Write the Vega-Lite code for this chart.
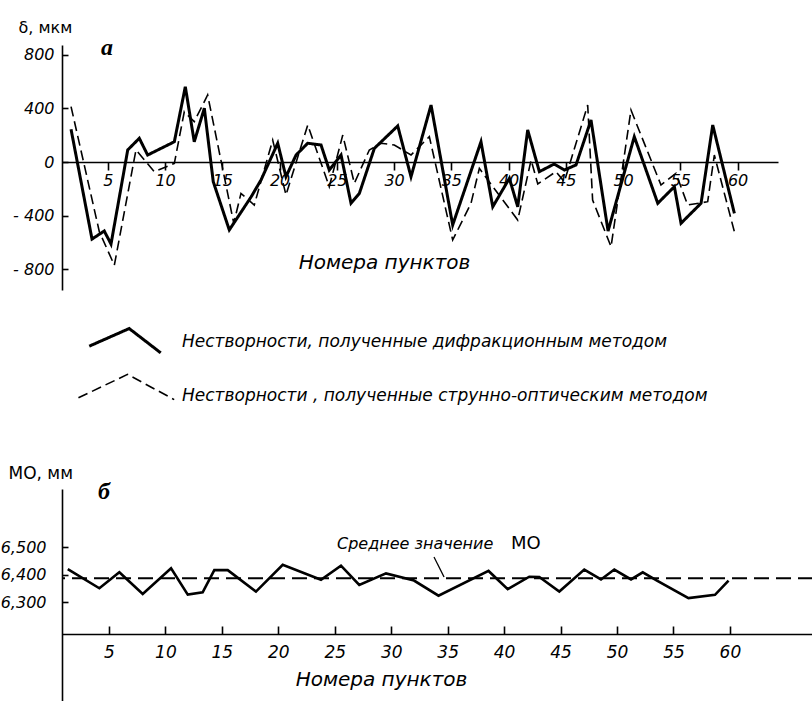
{
  "$schema": "https://vega.github.io/schema/vega-lite/v6.json",
  "background": "white",
  "padding": {"left": 0, "top": 19, "right": 0, "bottom": 0},
  "spacing": 174,
  "config": {
    "view": {"stroke": null},
    "font": "DejaVu Sans",
    "axis": {
      "grid": false,
      "domainColor": "black",
      "domainWidth": 1.6,
      "tickColor": "black",
      "tickWidth": 1.6,
      "labelColor": "black",
      "titleColor": "black",
      "labelFont": "DejaVu Sans",
      "labelFontStyle": "italic",
      "labelFontSize": 16,
      "labelFlush": false,
      "labelOverlap": false,
      "titleFontWeight": "normal",
      "titleFont": "DejaVu Sans"
    },
    "text": {"color": "black"}
  },
  "vconcat": [
    {
      "width": 716,
      "height": 245,
      "data": {
        "values": [
          {"method": "Нестворности, полученные дифракционным методом", "point": 1.79, "dev": 244},
          {"method": "Нестворности, полученные дифракционным методом", "point": 3.62, "dev": -575},
          {"method": "Нестворности, полученные дифракционным методом", "point": 4.69, "dev": -515},
          {"method": "Нестворности, полученные дифракционным методом", "point": 5.28, "dev": -612},
          {"method": "Нестворности, полученные дифракционным методом", "point": 6.74, "dev": 90},
          {"method": "Нестворности, полученные дифракционным методом", "point": 7.75, "dev": 177},
          {"method": "Нестворности, полученные дифракционным методом", "point": 8.48, "dev": 52},
          {"method": "Нестворности, полученные дифракционным методом", "point": 10.81, "dev": 151},
          {"method": "Нестворности, полученные дифракционным методом", "point": 11.77, "dev": 562},
          {"method": "Нестворности, полученные дифракционным методом", "point": 12.55, "dev": 151},
          {"method": "Нестворности, полученные дифракционным методом", "point": 13.43, "dev": 401},
          {"method": "Нестворности, полученные дифракционным методом", "point": 14.21, "dev": -147},
          {"method": "Нестворности, полученные дифракционным методом", "point": 15.61, "dev": -507},
          {"method": "Нестворности, полученные дифракционным методом", "point": 17.51, "dev": -261},
          {"method": "Нестворности, полученные дифракционным методом", "point": 18.38, "dev": -134},
          {"method": "Нестворности, полученные дифракционным методом", "point": 19.84, "dev": 140},
          {"method": "Нестворности, полученные дифракционным методом", "point": 20.56, "dev": -110},
          {"method": "Нестворности, полученные дифракционным методом", "point": 21.44, "dev": 52},
          {"method": "Нестворности, полученные дифракционным методом", "point": 22.46, "dev": 140},
          {"method": "Нестворности, полученные дифракционным методом", "point": 23.62, "dev": 127},
          {"method": "Нестворности, полученные дифракционным методом", "point": 24.34, "dev": -60},
          {"method": "Нестворности, полученные дифракционным методом", "point": 25.37, "dev": 52},
          {"method": "Нестворности, полученные дифракционным методом", "point": 26.24, "dev": -308},
          {"method": "Нестворности, полученные дифракционным методом", "point": 26.97, "dev": -234},
          {"method": "Нестворности, полученные дифракционным методом", "point": 28.28, "dev": 102},
          {"method": "Нестворности, полученные дифракционным методом", "point": 30.32, "dev": 269},
          {"method": "Нестворности, полученные дифракционным методом", "point": 31.48, "dev": -110},
          {"method": "Нестворности, полученные дифракционным методом", "point": 33.23, "dev": 425},
          {"method": "Нестворности, полученные дифракционным методом", "point": 35.12, "dev": -470},
          {"method": "Нестворности, полученные дифракционным методом", "point": 37.59, "dev": 151},
          {"method": "Нестворности, полученные дифракционным методом", "point": 38.62, "dev": -334},
          {"method": "Нестворности, полученные дифракционным методом", "point": 40.07, "dev": -122},
          {"method": "Нестворности, полученные дифракционным методом", "point": 40.8, "dev": -334},
          {"method": "Нестворности, полученные дифракционным методом", "point": 41.67, "dev": 239},
          {"method": "Нестворности, полученные дифракционным методом", "point": 42.69, "dev": -72},
          {"method": "Нестворности, полученные дифракционным методом", "point": 43.99, "dev": -15},
          {"method": "Нестворности, полученные дифракционным методом", "point": 44.87, "dev": -60},
          {"method": "Нестворности, полученные дифракционным методом", "point": 45.89, "dev": -22},
          {"method": "Нестворности, полученные дифракционным методом", "point": 47.2, "dev": 313},
          {"method": "Нестворности, полученные дифракционным методом", "point": 48.69, "dev": -515},
          {"method": "Нестворности, полученные дифракционным методом", "point": 50.98, "dev": 189},
          {"method": "Нестворности, полученные дифракционным методом", "point": 53.03, "dev": -308},
          {"method": "Нестворности, полученные дифракционным методом", "point": 54.48, "dev": -184},
          {"method": "Нестворности, полученные дифракционным методом", "point": 55.06, "dev": -457},
          {"method": "Нестворности, полученные дифракционным методом", "point": 56.81, "dev": -308},
          {"method": "Нестворности, полученные дифракционным методом", "point": 57.83, "dev": 276},
          {"method": "Нестворности, полученные дифракционным методом", "point": 59.72, "dev": -383},
          {"method": "Нестворности , полученные струнно-оптическим методом", "point": 1.79, "dev": 413},
          {"method": "Нестворности , полученные струнно-оптическим методом", "point": 4.26, "dev": -520},
          {"method": "Нестворности , полученные струнно-оптическим методом", "point": 5.57, "dev": -770},
          {"method": "Нестворности , полученные струнно-оптическим методом", "point": 7.46, "dev": 90},
          {"method": "Нестворности , полученные струнно-оптическим методом", "point": 9.06, "dev": -72},
          {"method": "Нестворности , полученные струнно-оптическим методом", "point": 10.81, "dev": -10},
          {"method": "Нестворности , полученные струнно-оптическим методом", "point": 11.68, "dev": 375},
          {"method": "Нестворности , полученные струнно-оптическим методом", "point": 12.55, "dev": 301},
          {"method": "Нестворности , полученные струнно-оптическим методом", "point": 13.72, "dev": 500},
          {"method": "Нестворности , полученные струнно-оптическим методом", "point": 16.0, "dev": -457},
          {"method": "Нестворности , полученные струнно-оптическим методом", "point": 16.63, "dev": -234},
          {"method": "Нестворности , полученные струнно-оптическим методом", "point": 17.79, "dev": -321},
          {"method": "Нестворности , полученные струнно-оптическим методом", "point": 19.4, "dev": 164},
          {"method": "Нестворности , полученные струнно-оптическим методом", "point": 20.56, "dev": -246},
          {"method": "Нестворности , полученные струнно-оптическим методом", "point": 22.46, "dev": 276},
          {"method": "Нестворности , полученные струнно-оптическим методом", "point": 24.34, "dev": -184},
          {"method": "Нестворности , полученные струнно-оптическим методом", "point": 25.52, "dev": 201},
          {"method": "Нестворности , полученные струнно-оптическим методом", "point": 26.53, "dev": -159},
          {"method": "Нестворности , полученные струнно-оптическим методом", "point": 27.84, "dev": 90},
          {"method": "Нестворности , полученные струнно-оптическим методом", "point": 28.86, "dev": 140},
          {"method": "Нестворности , полученные струнно-оптическим методом", "point": 30.02, "dev": 127},
          {"method": "Нестворности , полученные струнно-оптическим методом", "point": 31.48, "dev": 52},
          {"method": "Нестворности , полученные струнно-оптическим методом", "point": 33.08, "dev": 189},
          {"method": "Нестворности , полученные струнно-оптическим методом", "point": 35.12, "dev": -582},
          {"method": "Нестворности , полученные струнно-оптическим методом", "point": 36.72, "dev": -308},
          {"method": "Нестворности , полученные струнно-оптическим методом", "point": 37.45, "dev": -47},
          {"method": "Нестворности , полученные струнно-оптическим методом", "point": 38.62, "dev": -184},
          {"method": "Нестворности , полученные струнно-оптическим методом", "point": 40.8, "dev": -433},
          {"method": "Нестворности , полученные струнно-оптическим методом", "point": 41.97, "dev": 15},
          {"method": "Нестворности , полученные струнно-оптическим методом", "point": 42.55, "dev": -164},
          {"method": "Нестворности , полученные струнно-оптическим методом", "point": 44.14, "dev": -72},
          {"method": "Нестворности , полученные струнно-оптическим методом", "point": 44.87, "dev": -147},
          {"method": "Нестворности , полученные струнно-оптическим методом", "point": 46.91, "dev": 425},
          {"method": "Нестворности , полученные струнно-оптическим методом", "point": 47.34, "dev": -284},
          {"method": "Нестворности , полученные струнно-оптическим методом", "point": 48.95, "dev": -632},
          {"method": "Нестворности , полученные струнно-оптическим методом", "point": 50.69, "dev": 388},
          {"method": "Нестворности , полученные струнно-оптическим методом", "point": 53.31, "dev": -172},
          {"method": "Нестворности , полученные струнно-оптическим методом", "point": 54.62, "dev": -84},
          {"method": "Нестворности , полученные струнно-оптическим методом", "point": 55.64, "dev": -321},
          {"method": "Нестворности , полученные струнно-оптическим методом", "point": 57.39, "dev": -296},
          {"method": "Нестворности , полученные струнно-оптическим методом", "point": 57.97, "dev": 52},
          {"method": "Нестворности , полученные струнно-оптическим методом", "point": 59.72, "dev": -520}
        ]
      },
      "layer": [
        {
          "mark": {"type": "line", "color": "black", "strokeJoin": "miter", "strokeMiterLimit": 4},
          "encoding": {
            "x": {
              "field": "point", "type": "quantitative",
              "scale": {"domain": [1, 63.53], "nice": false, "zero": false},
              "axis": {
                "values": [5, 10, 15, 20, 25, 30, 35, 40, 45, 50, 55, 60],
                "offset": -128,
                "tickSize": 8,
                "labelPadding": 2,
                "title": "Номера пунктов",
                "titleFontSize": 20,
                "titleFontStyle": "italic",
                "titleX": 322,
                "titleY": 100,
                "titleAlign": "center",
                "titleBaseline": "middle"
              }
            },
            "y": {
              "field": "dev", "type": "quantitative",
              "scale": {"domain": [-955, 873], "nice": false, "zero": false},
              "axis": {
                "values": [800, 400, 0, -400, -800],
                "labelExpr": "datum.value < 0 ? '- ' + abs(datum.value) : datum.label",
                "tickSize": -6,
                "labelPadding": 14,
                "title": "δ, мкм",
                "titleFontSize": 16,
                "titleAngle": 0,
                "titleAlign": "left",
                "titleBaseline": "alphabetic",
                "titleX": -44,
                "titleY": -13
              }
            },
            "strokeDash": {
              "field": "method", "type": "nominal",
              "scale": {
                "domain": ["Нестворности, полученные дифракционным методом", "Нестворности , полученные струнно-оптическим методом"],
                "range": [[1, 0], [10, 5]]
              },
              "legend": {
                "orient": "none",
                "legendX": 45,
                "legendY": 277,
                "title": null,
                "padding": 0,
                "symbolSize": 1296,
                "symbolType": "M-2,0.3L0,-0.7L2,0.6",
                "symbolStrokeColor": "black",
                "symbolFillColor": "transparent",
                "rowPadding": 12,
                "labelOffset": 36,
                "labelFont": "DejaVu Sans",
                "labelFontStyle": "italic",
                "labelFontSize": 17,
                "labelColor": "black",
                "labelLimit": 900,
                "encode": {
                  "symbols": {
                    "update": {
                      "shape": {"signal": "datum.index === 0 ? 'M-2.07,0.26L0.15,-0.72L1.9,0.63' : 'M-2.67,0.1L0.06,-1.2L2.65,0.2'"},
                      "strokeWidth": {"signal": "datum.index === 0 ? 3 : 1.6"},
                      "stroke": {"value": "black"},
                      "fill": {"value": "transparent"}
                    }
                  }
                }
              }
            },
            "strokeWidth": {
              "field": "method", "type": "nominal",
              "scale": {
                "domain": ["Нестворности, полученные дифракционным методом", "Нестворности , полученные струнно-оптическим методом"],
                "range": [3, 1.6]
              },
              "legend": null
            }
          }
        },
        {
          "data": {"values": [{}]},
          "mark": {"type": "text", "font": "Liberation Serif", "fontStyle": "italic", "fontWeight": "bold", "fontSize": 24, "align": "center", "baseline": "middle"},
          "encoding": {
            "x": {"datum": 4.93, "type": "quantitative"},
            "y": {"datum": 851, "type": "quantitative"},
            "text": {"value": "а"}
          }
        }
      ]
    },
    {
      "width": 751,
      "height": 212,
      "layer": [
        {
          "data": {"values": [{}]},
          "mark": {"type": "rule", "color": "black", "strokeWidth": 2, "strokeDash": [15, 7]},
          "encoding": {
            "y": {"datum": 6.387, "type": "quantitative"}
          }
        },
        {
          "data": {
            "values": [
              {"point": 1.35, "mo": 6.421},
              {"point": 4.15, "mo": 6.351},
              {"point": 5.92, "mo": 6.409},
              {"point": 7.99, "mo": 6.33},
              {"point": 10.5, "mo": 6.424},
              {"point": 11.98, "mo": 6.328},
              {"point": 13.3, "mo": 6.336},
              {"point": 14.33, "mo": 6.417},
              {"point": 15.52, "mo": 6.417},
              {"point": 18.02, "mo": 6.339},
              {"point": 20.39, "mo": 6.436},
              {"point": 23.78, "mo": 6.382},
              {"point": 25.55, "mo": 6.433},
              {"point": 27.17, "mo": 6.363},
              {"point": 29.54, "mo": 6.405},
              {"point": 32.02, "mo": 6.379},
              {"point": 34.19, "mo": 6.324},
              {"point": 38.62, "mo": 6.414},
              {"point": 40.32, "mo": 6.348},
              {"point": 42.23, "mo": 6.393},
              {"point": 43.12, "mo": 6.392},
              {"point": 44.89, "mo": 6.339},
              {"point": 47.1, "mo": 6.419},
              {"point": 48.58, "mo": 6.383},
              {"point": 49.76, "mo": 6.419},
              {"point": 51.24, "mo": 6.383},
              {"point": 52.28, "mo": 6.409},
              {"point": 53.54, "mo": 6.379},
              {"point": 56.33, "mo": 6.315},
              {"point": 58.68, "mo": 6.327},
              {"point": 59.88, "mo": 6.379}
            ]
          },
          "mark": {"type": "line", "color": "black", "strokeWidth": 2.6, "strokeJoin": "miter"},
          "encoding": {
            "x": {
              "field": "point", "type": "quantitative",
              "scale": {"domain": [0.84, 67.36], "nice": false, "zero": false},
              "axis": {
                "values": [5, 10, 15, 20, 25, 30, 35, 40, 45, 50, 55, 60],
                "offset": -67,
                "tickSize": -8,
                "labelPadding": 18,
                "labelFontSize": 17,
                "title": "Номера пунктов",
                "titleFontSize": 20,
                "titleFontStyle": "italic",
                "titleX": 319,
                "titleY": 45,
                "titleAlign": "center",
                "titleBaseline": "middle"
              }
            },
            "y": {
              "field": "mo", "type": "quantitative",
              "scale": {"domain": [5.941, 6.712], "nice": false, "zero": false},
              "axis": {
                "values": [6.3, 6.4, 6.5],
                "labelExpr": "replace(format(datum.value, '.3f'), '.', ',')",
                "tickSize": -6,
                "labelPadding": 22,
                "labelFontSize": 16,
                "title": "МО, мм",
                "titleFontSize": 17,
                "titleAngle": 0,
                "titleAlign": "left",
                "titleBaseline": "alphabetic",
                "titleX": -54,
                "titleY": -11
              }
            }
          }
        },
        {
          "data": {"values": [{}]},
          "mark": {"type": "text", "fontStyle": "italic", "fontSize": 16, "align": "left", "baseline": "middle"},
          "encoding": {
            "x": {"datum": 25.2, "type": "quantitative"},
            "y": {"datum": 6.512, "type": "quantitative"},
            "text": {"value": "Среднее значение"}
          }
        },
        {
          "data": {"values": [{}]},
          "mark": {"type": "text", "fontSize": 18, "align": "left", "baseline": "middle"},
          "encoding": {
            "x": {"datum": 40.6, "type": "quantitative"},
            "y": {"datum": 6.512, "type": "quantitative"},
            "text": {"value": "МО"}
          }
        },
        {
          "data": {"values": [{}]},
          "mark": {"type": "rule", "color": "black", "strokeWidth": 1.3},
          "encoding": {
            "x": {"datum": 33.79, "type": "quantitative"},
            "y": {"datum": 6.465, "type": "quantitative"},
            "x2": {"datum": 34.68},
            "y2": {"datum": 6.392}
          }
        },
        {
          "data": {"values": [{}]},
          "mark": {"type": "text", "font": "Liberation Serif", "fontStyle": "italic", "fontWeight": "bold", "fontSize": 24, "align": "center", "baseline": "middle"},
          "encoding": {
            "x": {"datum": 4.56, "type": "quantitative"},
            "y": {"datum": 6.701, "type": "quantitative"},
            "text": {"value": "б"}
          }
        }
      ]
    }
  ]
}
